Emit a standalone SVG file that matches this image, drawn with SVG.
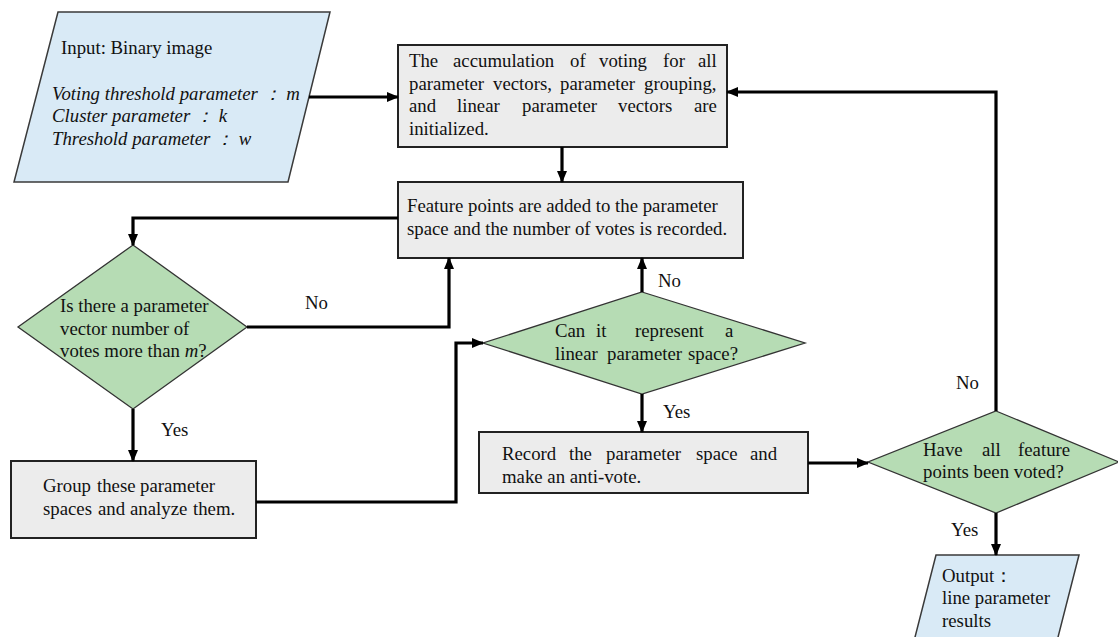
<svg xmlns="http://www.w3.org/2000/svg" width="1118" height="637" viewBox="0 0 1118 637">
<style>
text{font-family:"Liberation Serif","Times New Roman",serif;font-size:18.8px;fill:#111}
.it{font-style:italic}
.io{fill:#d9eaf6;stroke:#3a3a3a;stroke-width:1.5}
.box{fill:#ececec;stroke:#222;stroke-width:2}
.dec{fill:#b6dcb4;stroke:#333;stroke-width:1.3}
.c{fill:none;stroke:#000;stroke-width:3.2}
</style>
<defs>
<marker id="ah" markerUnits="userSpaceOnUse" markerWidth="14" markerHeight="12" refX="11" refY="5" orient="auto">
<path d="M0,0 L12,5 L0,10 z" fill="#000"/>
</marker>
</defs>
<g id="input">
<polygon class="io" points="58,12 330,12 288,182 14,182"/>
<text x="61" y="54">Input: Binary image</text>
<text class="it" x="52" y="100">Voting threshold parameter  ：  m</text>
<text class="it" x="52" y="122">Cluster parameter  ：  k</text>
<text class="it" x="52" y="145">Threshold parameter  ：  w</text>
</g>
<g id="init">
<rect class="box" x="398" y="45" width="329" height="102"/>
<text y="67"><tspan x="409">The</tspan><tspan x="453">accumulation</tspan><tspan x="570">of</tspan><tspan x="599">voting</tspan><tspan x="663">for</tspan><tspan x="698">all</tspan></text>
<text y="90"><tspan x="409">parameter</tspan><tspan x="493">vectors,</tspan><tspan x="560">parameter</tspan><tspan x="644">grouping,</tspan></text>
<text y="112"><tspan x="409">and</tspan><tspan x="457">linear</tspan><tspan x="522">parameter</tspan><tspan x="618">vectors</tspan><tspan x="694">are</tspan></text>
<text x="409" y="135">initialized.</text>
</g>
<g id="add">
<rect class="box" x="398" y="182" width="345" height="76"/>
<text x="407" y="212">Feature points are added to the parameter</text>
<text x="407" y="235">space and the number of votes is recorded.</text>
</g>
<g id="dec1">
<polygon class="dec" points="133,245 247,327 133,409 18,327"/>
<text x="60" y="312">Is there a parameter</text>
<text x="60" y="335">vector number of</text>
<text x="60" y="357">votes more than <tspan class="it">m</tspan>?</text>
</g>
<g id="group">
<rect class="box" x="11" y="461" width="245" height="77"/>
<text y="492"><tspan x="43">Group</tspan><tspan x="97">these</tspan><tspan x="140">parameter</tspan></text>
<text y="515"><tspan x="43">spaces</tspan><tspan x="98">and</tspan><tspan x="130">analyze</tspan><tspan x="193">them.</tspan></text>
</g>
<g id="dec2">
<polygon class="dec" points="642,292 805,343 642,394 483,343"/>
<text y="337"><tspan x="555">Can</tspan><tspan x="596">it</tspan><tspan x="635">represent</tspan><tspan x="725">a</tspan></text>
<text y="360"><tspan x="555">linear</tspan><tspan x="607">parameter</tspan><tspan x="688">space?</tspan></text>
</g>
<g id="record">
<rect class="box" x="479" y="432" width="329" height="61"/>
<text y="460"><tspan x="502">Record</tspan><tspan x="569">the</tspan><tspan x="606">parameter</tspan><tspan x="696">space</tspan><tspan x="750">and</tspan></text>
<text x="502" y="483">make an anti-vote.</text>
</g>
<g id="dec3">
<polygon class="dec" points="996,411 1119,462 996,513 868,462"/>
<text y="456"><tspan x="923">Have</tspan><tspan x="982">all</tspan><tspan x="1018">feature</tspan></text>
<text x="923" y="478">points been voted?</text>
</g>
<g id="output">
<polygon class="io" points="936,555 1079,555 1056,645 913,645"/>
<text x="942" y="582">Output：</text>
<text x="942" y="604">line parameter</text>
<text x="942" y="627">results</text>
</g>
<g id="connectors">
<path class="c" d="M309,97 H398" marker-end="url(#ah)"/>
<path class="c" d="M562,147 V182" marker-end="url(#ah)"/>
<path class="c" d="M398,218 H133 V245" marker-end="url(#ah)"/>
<path class="c" d="M247,327 H449 V258" marker-end="url(#ah)"/>
<path class="c" d="M133,409 V461" marker-end="url(#ah)"/>
<path class="c" d="M256,502 H456 V343 H483" marker-end="url(#ah)"/>
<path class="c" d="M642,292 V258" marker-end="url(#ah)"/>
<path class="c" d="M642,394 V432" marker-end="url(#ah)"/>
<path class="c" d="M808,463 H868" marker-end="url(#ah)"/>
<path class="c" d="M996,411 V92 H727" marker-end="url(#ah)"/>
<path class="c" d="M996,513 V555" marker-end="url(#ah)"/>
<text x="305" y="309">No</text>
<text x="161" y="436">Yes</text>
<text x="658" y="287">No</text>
<text x="663" y="418">Yes</text>
<text x="956" y="389">No</text>
<text x="951" y="536">Yes</text>
</g>
</svg>
